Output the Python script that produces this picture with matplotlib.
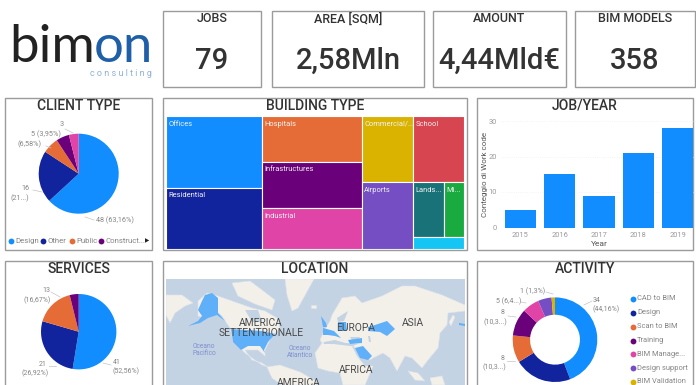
import matplotlib
matplotlib.use('Agg')
import matplotlib.pyplot as plt
from matplotlib.patches import Rectangle, Polygon

W, H = 696, 385
plt.rcParams['font.family'] = ['Roboto', 'DejaVu Sans']

# KPI cards
kpi_titles = ['JOBS', 'AREA [SQM]', 'AMOUNT', 'BIM MODELS']
kpi_values = ['79', '2,58Mln', '4,44Mld€', '358']

# pies
client_labels = ['Design', 'Other', 'Public', 'Construct...']
client_values = [48, 16, 5, 4, 3]
service_values = [41, 21, 13, 3]
activity_labels = ['CAD to BIM', 'Design', 'Scan to BIM', 'Training', 'BIM Manage...', 'Design support', 'BIM Validation']
activity_values = [34, 17, 8, 8, 5, 4, 1]

# treemap
building_labels = ['Offices', 'Residential', 'Hospitals', 'Infrastructures', 'Industrial',
                   'Commercial/...', 'Airports', 'School', 'Lands...', 'Mi...', '']
building_values = [13.5, 11.5, 8.9, 9.1, 7.9, 6.7, 6.7, 6.7, 3.3, 2.2, 1.2]
building_columns = [[[0], [1]], [[2], [3], [4]], [[5], [6]], [[7], [8, 9], [10]]]
building_colors = ['#118DFF', '#12239E', '#E66C37', '#6B007B', '#E044A7', '#D9B300',
                   '#744EC2', '#D64550', '#197278', '#1AAB40', '#15C6F4']

# bars
years = ['2015', '2016', '2017', '2018', '2019']
jobs_per_year = [5, 15, 9, 21, 28]

palette = ['#118DFF', '#12239E', '#E66C37', '#6B007B', '#E044A7', '#744EC2', '#D9B300']

# map outlines
land_shapes = [
    [(198, 301), (207, 293), (218, 296), (232, 301), (252, 308), (265, 311), (277, 318), (280, 328),
     (272, 336), (265, 350), (265, 356), (258, 350), (245, 350), (252, 360), (262, 363), (268, 367),
     (262, 365), (245, 353), (233, 341), (230, 328), (222, 316), (215, 310), (205, 318), (198, 316)],
    [(232, 283), (250, 281), (262, 290), (275, 300), (272, 310), (255, 304), (238, 296)],
    [(285, 279), (314, 279), (298, 308), (292, 311), (287, 295)],
    [(166, 295), (182, 295), (193, 303), (185, 306), (175, 313), (170, 323), (166, 315)],
    [(267, 367), (280, 365), (300, 372), (316, 381), (316, 385), (282, 385), (272, 378)],
    [(320, 340), (323, 333), (330, 321), (332, 315), (342, 298), (355, 296), (362, 303), (382, 296),
     (402, 286), (415, 286), (442, 295), (465, 305), (465, 311), (448, 313), (447, 325), (440, 333),
     (438, 348), (428, 360), (422, 368), (412, 358), (405, 356), (397, 371), (390, 358), (383, 353),
     (373, 358), (370, 360), (355, 348), (352, 344), (335, 342), (322, 343)],
    [(315, 353), (322, 343), (335, 344), (352, 346), (357, 356), (365, 366), (373, 366), (368, 378),
     (365, 385), (343, 385), (340, 373), (328, 371), (318, 368)],
    [(408, 371), (418, 373), (425, 381), (415, 380)],
    [(430, 378), (442, 376), (445, 385), (432, 385)],
    [(311, 305), (316, 305), (316, 308), (311, 308)],
    [(449, 322), (453, 315), (455, 317), (451, 326)],
]
water_shapes = [
    [(324, 342), (335, 340), (345, 343), (358, 344), (352, 346), (335, 344), (324, 344)],
    [(350, 337), (360, 337), (358, 340), (352, 340)],
    [(368, 336), (370, 336), (371, 342), (369, 342)],
    [(337, 318), (348, 311), (344, 321), (338, 322)],
    [(245, 310), (258, 310), (262, 322), (252, 322)],
]
highlight_shapes = [
    [(205, 295), (212, 293), (218, 298), (218, 313), (225, 321), (217, 315), (208, 318), (200, 323),
     (188, 326), (198, 321), (202, 316), (198, 310), (202, 301)],
    [(231, 329), (262, 331), (275, 334), (268, 342), (264, 350), (265, 353), (260, 346), (248, 346),
     (241, 350), (233, 342)],
    [(321, 316), (326, 323), (327, 327), (323, 327)],
    [(323, 328), (334, 331), (341, 338), (335, 336), (328, 335), (323, 335)],
    [(338, 322), (346, 322), (347, 331), (339, 331)],
    [(348, 340), (362, 338), (362, 343), (350, 344)],
    [(355, 348), (363, 346), (372, 356), (368, 360), (360, 358)],
    [(375, 325), (387, 321), (395, 329), (387, 336), (380, 332), (368, 331), (368, 327)],
    [(459, 323), (465, 324), (465, 326), (459, 325)],
]
map_labels = [('AMERICA', 261, 323), ('SETTENTRIONALE', 261, 333), ('EUROPA', 356, 328),
              ('ASIA', 413, 323), ('AFRICA', 356, 370), ('AMERICA', 299, 383)]
ocean_labels = [('Oceano\nPacifico', 204, 350), ('Oceano\nAtlantico', 300, 352)]


def px_axes(x0, y0, x1, y1):
    # axes placed with picture pixels, y going down
    return fig.add_axes([x0 / W, 1 - y1 / H, (x1 - x0) / W, (y1 - y0) / H])


def pie_axes(cx, cy, r, values, colors, wedgeprops=None):
    ax = px_axes(cx - r, cy - r, cx + r, cy + r)
    ax.pie(values, colors=colors, startangle=90, counterclock=False, radius=1, wedgeprops=wedgeprops)
    ax.set_xlim(-1, 1)
    ax.set_ylim(-1, 1)
    return ax


fig = plt.figure(figsize=(W / 100, H / 100), dpi=100)

# overlay in pixel coordinates for frames and loose text
bg = fig.add_axes([0, 0, 1, 1], zorder=0)
bg.set_xlim(0, W)
bg.set_ylim(H, 0)
bg.axis('off')
top = fig.add_axes([0, 0, 1, 1], zorder=5)
top.set_xlim(0, W)
top.set_ylim(H, 0)
top.axis('off')
top.patch.set_alpha(0)

frame = '#9b9b9b'
dark = '#333333'
grey = '#858585'

for x0, x1, t, v in zip([163, 272, 433, 575], [261, 424, 566, 695], kpi_titles, kpi_values):
    bg.add_patch(Rectangle((x0, 11), x1 - x0, 76, fc='white', ec=frame, lw=1))
    bg.text((x0 + x1) / 2, 19, t, ha='center', va='center', fontsize=9, color=dark, weight='medium')
    bg.text((x0 + x1) / 2, 61, v, ha='center', va='center', fontsize=21, color=dark, weight='medium')

for x0, y0, x1, y1, t in [(5, 98, 152, 250, 'CLIENT TYPE'), (163, 98, 467, 250, 'BUILDING TYPE'),
                          (477, 98, 693, 250, 'JOB/YEAR'), (5, 261, 152, 390, 'SERVICES'),
                          (163, 261, 467, 390, 'LOCATION'), (477, 261, 693, 390, 'ACTIVITY')]:
    bg.add_patch(Rectangle((x0, y0), x1 - x0, y1 - y0, fc='white', ec=frame, lw=1))
    bg.text((x0 + x1) / 2, y0 + 8, t, ha='center', va='center', fontsize=10, color=dark, weight='medium')

# logo
bg.text(9, 62, 'bim', fontsize=38, family='Lato', weight='normal', color='#222222', va='baseline')
bg.text(94, 62, 'on', fontsize=38, family='Lato', weight='normal', color='#1f5fa8', va='baseline')
bg.text(152, 73, 'c o n s u l t i n g', fontsize=6.5, color='#8fb2d6', ha='right', va='center')

# client pie
pie_axes(78.7, 173.7, 40, client_values, palette[:4] + ['#E044A7'])
for x, y, s, ha in [(96, 220, '48 (63,16%)', 'left'), (25, 188, '16', 'center'), (20, 198, '(21...)', 'center'),
                    (30, 144, '(6,58%)', 'center'), (46, 134, '5 (3,95%)', 'center'), (62, 125, '3', 'center')]:
    top.text(x, y, s, fontsize=5.2, color=grey, ha=ha, va='center')
for xs, ys in [([85, 94], [217, 220]), ([33, 42], [190, 192]), ([46, 51], [146, 148]), ([65, 73], [129, 133])]:
    top.plot(xs, ys, color='#c4c4c4', lw=0.5)
for x, s, c in zip([11, 43, 72, 101], client_labels, palette):
    top.plot([x], [240.7], 'o', ms=4.2, color=c, mew=0)
    top.text(x + 4.5, 240.7, s, fontsize=5.6, color=grey, va='center')
top.text(147, 240.7, '▶', fontsize=4, color='#222222', ha='center', va='center', family='DejaVu Sans')

# treemap
tm = px_axes(166, 116, 464.5, 248.5)
total = sum(building_values)
tm.set_xlim(0, total)
tm.set_ylim(total, 0)
tm.axis('off')
x = 0
for col in building_columns:
    col_sum = sum(building_values[i] for row in col for i in row)
    y = 0
    for row in col:
        row_sum = sum(building_values[i] for i in row)
        row_h = row_sum / col_sum * total
        cx = x
        for i in row:
            cw = building_values[i] / row_sum * col_sum
            tm.add_patch(Rectangle((cx, y), cw, row_h, fc=building_colors[i], ec='white', lw=0.8))
            tm.annotate(building_labels[i], (cx, y), xytext=(2.5, -8), textcoords='offset pixels',
                        fontsize=5.4, color='#f2f2f2', va='center', annotation_clip=False)
            cx += cw
        y += row_h
    x += col_sum

# bars
bar = px_axes(500.7, 121, 697.2, 227.5)
bar.bar(range(len(years)), jobs_per_year, width=0.8, color='#118DFF')
bar.set_xlim(-0.5, 4.5)
bar.set_ylim(0, 30)
bar.set_yticks([0, 10, 20, 30])
bar.set_xticks(range(len(years)), years)
bar.tick_params(length=0, labelsize=5.4, labelcolor='#9a9a9a', pad=3)
bar.grid(axis='y', color='#eeeeee', lw=0.5, ls=':')
bar.set_axisbelow(True)
for s in bar.spines.values():
    s.set_visible(False)
bar.patch.set_alpha(0)
top.text(485, 174, 'Conteggio di Work code', rotation=90, fontsize=5.8, color='#555555', ha='center', va='center')
top.text(599, 244, 'Year', fontsize=6, color='#555555', ha='center', va='center')

# services pie
pie_axes(78.7, 331.7, 37.7, service_values, palette[:4])
for x, y, s, ha in [(46, 291, '13', 'center'), (37, 300, '(16,67%)', 'center'), (43, 364, '21', 'center'),
                    (35, 373, '(26,92%)', 'center'), (117, 362, '41', 'center'), (126, 371, '(52,56%)', 'center')]:
    top.text(x, y, s, fontsize=5, color=grey, ha=ha, va='center')
for xs, ys in [([51, 60], [292, 297]), ([49, 56], [366, 366]), ([103, 111], [363, 365])]:
    top.plot(xs, ys, color='#c4c4c4', lw=0.5)

# map
mp = px_axes(166, 279, 465, 385)
mp.set_xlim(166, 465)
mp.set_ylim(385, 279)
mp.axis('off')
mp.add_patch(Rectangle((166, 279), 299, 106, fc='#c3d3e4', ec='none'))
for pts in land_shapes:
    mp.add_patch(Polygon(pts, fc='#f3f0ea', ec='#dfe4ea', lw=0.4))
for pts in water_shapes:
    mp.add_patch(Polygon(pts, fc='#c3d3e4', ec='none'))
for pts in highlight_shapes:
    mp.add_patch(Polygon(pts, fc='#5fb0f8', ec='none'))
for s, x, y in map_labels:
    mp.text(x, y, s, fontsize=7.4, color='#4a4a4a', ha='center', va='center', clip_on=False)
for s, x, y in ocean_labels:
    mp.text(x, y, s, fontsize=4.8, color='#7f8fce', ha='center', va='center', linespacing=1.1)

# donut
pie_axes(555, 339.7, 42.3, activity_values, palette, wedgeprops={'width': 0.41})
for x, y, s in [(597, 300, '34'), (606, 309, '(44,16%)'), (533, 291, '1 (1,3%)'), (509, 301, '5 (6,4...)'),
                (503, 313, '8'), (495, 322, '(10,3...)'), (503, 358, '8'), (494, 367, '(10,3...)')]:
    top.text(x, y, s, fontsize=5, color=grey, ha='center', va='center')
for xs, ys in [([584, 592], [305, 301]), ([546, 553], [292, 294]), ([521, 526], [302, 303]),
               ([508, 516], [316, 317]), ([507, 515], [361, 361])]:
    top.plot(xs, ys, color='#c4c4c4', lw=0.5)
for y, s, c in zip([299, 313, 326.7, 340.7, 354.3, 368, 381.7], activity_labels, palette):
    top.plot([633], [y], 'o', ms=4.2, color=c, mew=0)
    top.text(637, y, s, fontsize=5.4, color=grey, va='center')

fig.savefig('out.png', dpi=100)
